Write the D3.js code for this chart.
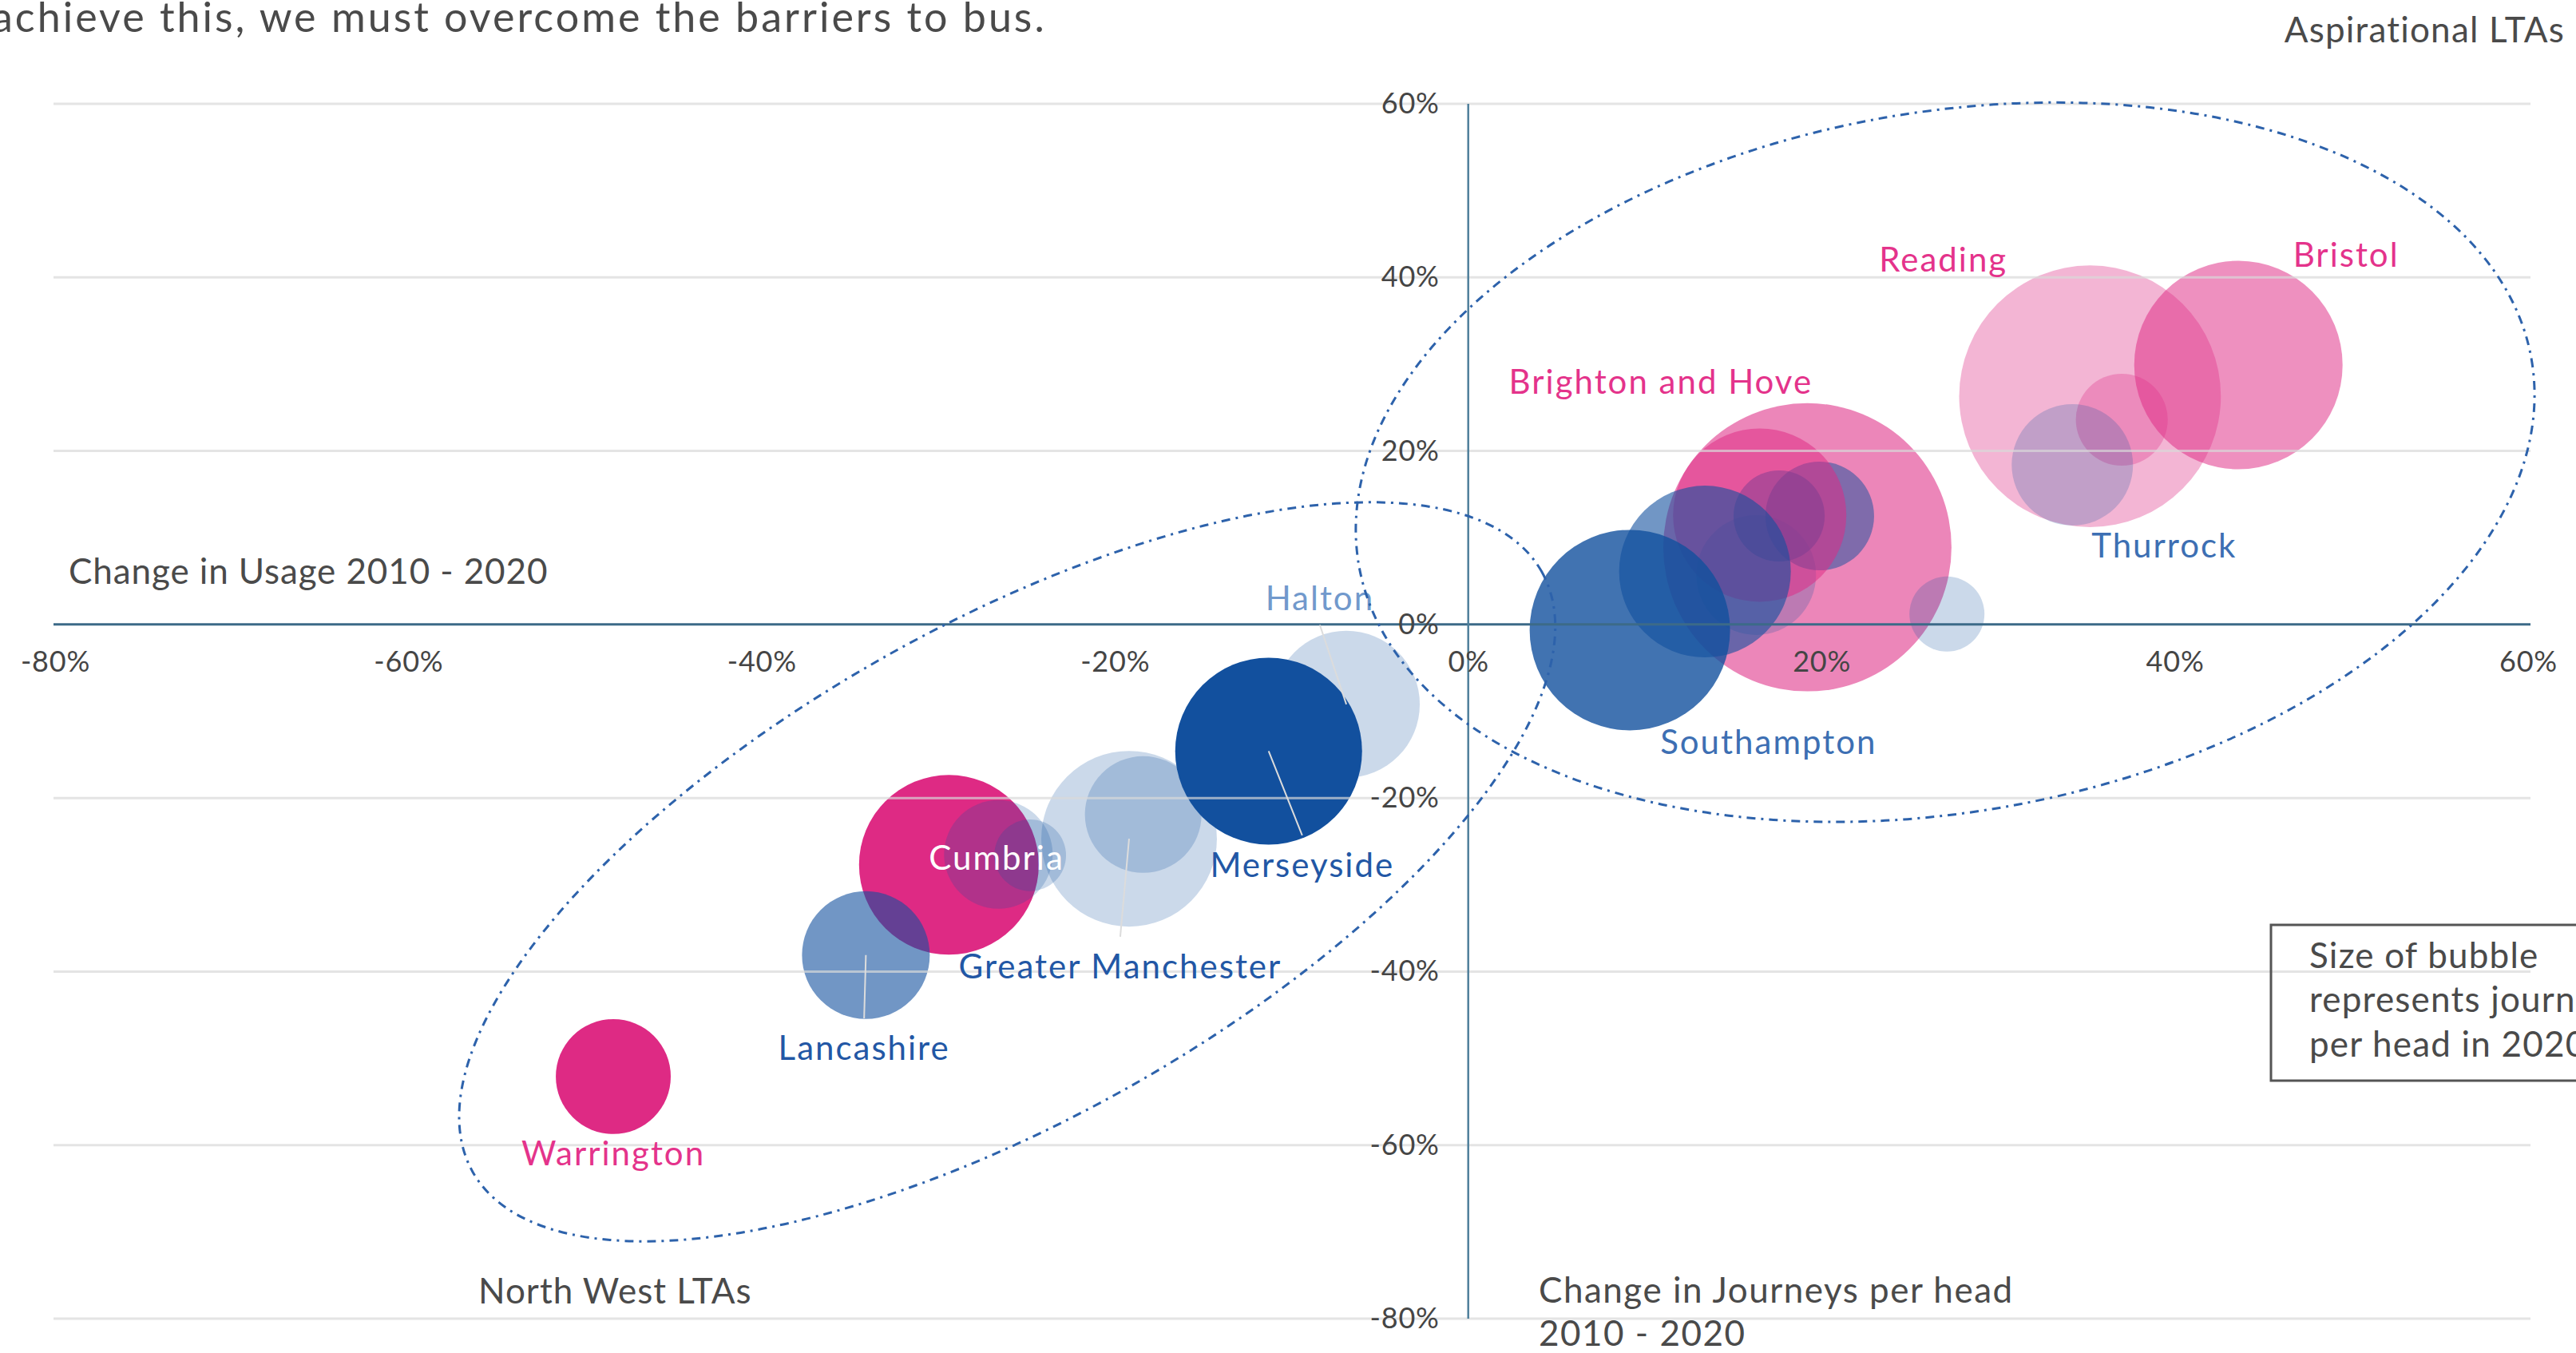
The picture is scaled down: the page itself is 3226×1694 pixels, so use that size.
<!DOCTYPE html>
<html>
<head>
<meta charset="utf-8">
<script src="https://cdn.jsdelivr.net/npm/d3@7"></script>
<style>
  html, body { margin: 0; padding: 0; background: #fff; overflow: hidden; }
  svg { display: block; font-family: Lato, "Open Sans", sans-serif; }
</style>
</head>
<body>
<svg id="chart"></svg>
<script>
// bubbles, in drawing order (x: change in journeys per head, y: change in usage, size: journeys per head 2020)
var names = ["Cumbria", "Warrington", "", "", "Greater Manchester", "", "Halton", "Lancashire", "Merseyside",
             "Brighton and Hove", "", "", "", "", "", "", "Southampton", "Reading", "", "Bristol", "Thurrock"];
var journeysChange = [-29.4, -48.4, -26.6, -24.8, -19.2, -18.4, -6.9, -34.1, -11.3,
                      19.2, 16.3, 17.6, 19.9, 16.5, 27.1, 13.4, 9.15, 35.2, 37.0, 43.6, 34.2];
var usageChange = [-27.7, -52.1, -26.5, -26.6, -24.7, -21.9, -9.2, -38.1, -14.6,
                   8.9, 5.7, 12.5, 12.5, 12.6, 1.2, 6.1, -0.65, 26.3, 23.6, 29.9, 18.4];
var journeys2020 = [66.5, 27.2, 24.3, 10.6, 63.5, 28.0, 44.4, 33.6, 71.9,
                    171, 29.5, 17.1, 24.3, 61.8, 11.6, 60.7, 82.7, 141, 17.4, 89.4, 30.3];
var tone = ["pink A", "pink A", "blue E", "blue E", "blue E", "blue E", "blue E", "blue C", "blue A",
            "pink B", "blue E", "blue D", "blue D", "pink C", "blue E", "blue C", "blue B", "pink D", "pink E", "pink C", "blue E"];

// tick values
var xTicks = [-80, -60, -40, -20, 0, 20, 40, 60];
var yTicks = [60, 40, 20, 0, -20, -40, -60, -80];

// bubble labels (anchor in data units)
var labelText = ["Warrington", "Lancashire", "Cumbria", "Greater Manchester", "Merseyside", "Halton",
                 "Southampton", "Brighton and Hove", "Reading", "Bristol", "Thurrock"];
var labelX = [-48.4, -34.2, -26.7, -19.7, -9.4, -8.4, 17.0, 10.9, 26.9, 49.7, 39.4];
var labelY = [-62.3, -50.2, -28.3, -40.8, -29.1, 1.6, -14.9, 26.6, 40.7, 41.2, 7.7];
var labelTone = ["pink", "blue", "white", "blue", "blue", "pale", "mid", "pink", "pink", "pink", "mid"];
var labelLeader = ["", "Lancashire", "", "Greater Manchester", "Merseyside", "Halton", "", "", "", "", ""];

// group ellipses (centre and semi-axes in percentage points, tilt in degrees)
var groupCx = [-26.1, 27.0];
var groupCy = [-28.5, 18.7];
var groupA = [34.7, 33.7];
var groupB = [14.0, 19.8];
var groupTilt = [29.3, 10];

var width = 3226, height = 1694;
var pink = "#de2a84", blue = "#12509e";

var svg = d3.select("#chart").attr("width", width).attr("height", height);

var x = d3.scaleLinear().domain([-80, 60]).range([69, 3166]);
var y = d3.scaleLinear().domain([60, -80]).range([130, 1651]);
var r = d3.scaleSqrt().domain([0, 180]).range([0, 13.8 * Math.sqrt(180)]);

var toneColor = d3.scaleOrdinal()
    .domain(["pink A", "pink B", "pink C", "pink D", "pink E", "blue A", "blue B", "blue C", "blue D", "blue E"])
    .range([pink, pink, pink, pink, pink, blue, blue, blue, blue, blue]);
var toneOpacity = d3.scaleOrdinal()
    .domain(toneColor.domain())
    .range([1, 0.57, 0.52, 0.35, 0.3, 1, 0.8, 0.6, 0.5, 0.22]);
var labelColor = d3.scaleOrdinal()
    .domain(["pink", "blue", "white", "pale", "mid"])
    .range(["#e4338b", "#2257a5", "#ffffff", "#7199cc", "#3d6fb3"]);

var bubbles = names.map(function(n, i) {
  return {name: n, jx: journeysChange[i], uy: usageChange[i], size: journeys2020[i], tone: tone[i]};
});

// bubbles
svg.append("g").selectAll("circle")
    .data(bubbles)
    .join("circle")
    .attr("cx", d => x(d.jx))
    .attr("cy", d => y(d.uy))
    .attr("r", d => r(d.size))
    .attr("fill", d => toneColor(d.tone))
    .attr("fill-opacity", d => toneOpacity(d.tone));

// gridlines
svg.append("g").selectAll("line")
    .data(yTicks.filter(d => d !== 0))
    .join("line")
    .attr("x1", 67).attr("x2", 3169)
    .attr("y1", d => y(d)).attr("y2", d => y(d))
    .attr("stroke", "#d9d9d9")
    .attr("stroke-opacity", 0.7)
    .attr("stroke-width", 3);

// axis lines
svg.append("line")
    .attr("x1", 67).attr("x2", 3169)
    .attr("y1", y(0)).attr("y2", y(0))
    .attr("stroke", "#3c6a88").attr("stroke-width", 3);
svg.append("line")
    .attr("x1", x(0)).attr("x2", x(0))
    .attr("y1", y(60)).attr("y2", y(-80))
    .attr("stroke", "#4f7f9b").attr("stroke-width", 2.5);

// tick labels
var fmt = d => d + "%";
var yAxis = svg.append("g")
    .attr("transform", "translate(" + x(0) + ",0)")
    .call(d3.axisLeft(y).tickValues(yTicks).tickSize(0).tickPadding(36).tickFormat(fmt));
var xAxis = svg.append("g")
    .attr("transform", "translate(0," + y(0) + ")")
    .call(d3.axisBottom(x).tickValues(xTicks).tickSize(0).tickPadding(34).tickFormat(fmt));
[xAxis, yAxis].forEach(function(a) {
  a.select(".domain").remove();
  a.attr("font-family", null).attr("font-size", null);
  a.selectAll("text").attr("fill", "#454545")
      .style("font-size", "36px").style("letter-spacing", "0.8px");
});

// leader lines
var labelFont = 42;
labelText.forEach(function(t, i) {
  if (!labelLeader[i]) return;
  var b = bubbles.find(d => d.name === labelLeader[i]);
  var lx = x(labelX[i]), ly = y(labelY[i]);
  var above = ly < y(b.uy);
  svg.append("line")
      .attr("x1", x(b.jx)).attr("y1", y(b.uy))
      .attr("x2", lx).attr("y2", above ? ly + 18 : ly - labelFont * 0.72 - 22)
      .attr("stroke", "#dcdcdc").attr("stroke-width", 2);
});

// bubble labels
svg.append("g").selectAll("text")
    .data(labelText)
    .join("text")
    .attr("x", (d, i) => x(labelX[i]))
    .attr("y", (d, i) => y(labelY[i]))
    .attr("text-anchor", "middle")
    .attr("fill", (d, i) => labelColor(labelTone[i]))
    .style("font-size", labelFont + "px")
    .style("letter-spacing", "2px")
    .text(d => d);

// group ellipses
groupCx.forEach(function(cx, i) {
  var rx = x(cx + groupA[i]) - x(cx), ry = x(cx + groupB[i]) - x(cx);
  svg.append("ellipse")
      .attr("transform", "translate(" + x(cx) + "," + y(groupCy[i]) + ") rotate(" + (-groupTilt[i]) + ")")
      .attr("rx", rx).attr("ry", ry)
      .attr("fill", "none")
      .attr("stroke", "#2d62ab")
      .attr("stroke-width", 3)
      .attr("stroke-dasharray", "11 7 3 7");
});

// annotations
var grey = "#4a4a4a";
function note(tx, ty, txt, size, spacing, anchor) {
  svg.append("text").attr("x", tx).attr("y", ty)
      .attr("text-anchor", anchor || "start")
      .attr("fill", grey)
      .style("font-size", size + "px")
      .style("letter-spacing", spacing + "px")
      .text(txt);
}
note(-10, 40, "achieve this, we must overcome the barriers to bus.", 52, 3);
note(3212, 53, "Aspirational LTAs", 44, 1.2, "end");
note(86, 731, "Change in Usage 2010 - 2020", 44, 0.9);
note(599, 1632, "North West LTAs", 44, 1);
note(1927, 1631, "Change in Journeys per head", 44, 1.5);
note(1927, 1685, "2010 - 2020", 44, 1.5);

// bubble size note box
svg.append("rect")
    .attr("x", 2844).attr("y", 1158)
    .attr("width", 520).attr("height", 195)
    .attr("fill", "none").attr("stroke", "#555").attr("stroke-width", 3);
note(2892, 1212, "Size of bubble", 44, 1.2);
note(2892, 1267, "represents journeys", 44, 1.2);
note(2892, 1323, "per head in 2020", 44, 1.2);
</script>
</body>
</html>
